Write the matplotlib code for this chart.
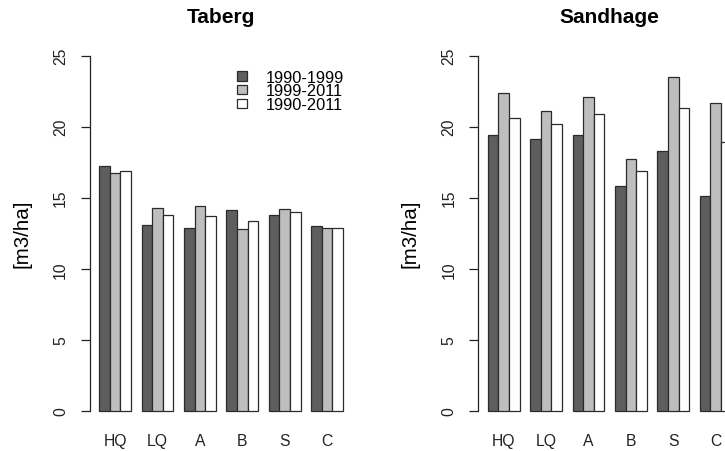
import numpy as np
import matplotlib
matplotlib.use("Agg")
import matplotlib.pyplot as plt

plt.rcParams["font.family"] = ["Liberation Sans", "DejaVu Sans"]

categories = ["HQ", "LQ", "A", "B", "S", "C"]
periods = ["1990-1999", "1999-2011", "1990-2011"]

taberg_1990_1999 = [17.25, 13.1, 12.9, 14.1, 13.8, 13.0]
taberg_1999_2011 = [16.75, 14.25, 14.45, 12.8, 14.2, 12.85]
taberg_1990_2011 = [16.85, 13.8, 13.7, 13.35, 14.0, 12.85]

sandhage_1990_1999 = [19.4, 19.1, 19.4, 15.8, 18.3, 15.1]
sandhage_1999_2011 = [22.4, 21.1, 22.1, 17.7, 23.5, 21.7]
sandhage_1990_2011 = [20.6, 20.2, 20.9, 16.85, 21.3, 18.9]

y_ticks = [0, 5, 10, 15, 20, 25]

fills = ["#5e5e5e", "#bebebe", "#ffffff"]
edge = "#2b2b2b"

W, H = 725, 452
fig = plt.figure(figsize=(W / 100, H / 100), dpi=100)

ax_w = 263.3 / W
ax_h = 383.4 / H
ax_b = 26.1 / H
ax_left = fig.add_axes([89.5 / W, ax_b, ax_w, ax_h])
ax_right = fig.add_axes([478.0 / W, ax_b, ax_w, ax_h])


def grouped_bars(ax, series, title, legend=False):
    n_groups = len(categories)
    n_series = len(series)
    group_start = 1 + np.arange(n_groups) * (n_series + 1)
    for k, (vals, lab) in enumerate(zip(series, periods)):
        ax.bar(group_start + k, vals, width=1.0, align="edge",
               color=fills[k], edgecolor=edge, linewidth=0.9, label=lab,
               zorder=2)
    ax.set_xlim(0.08, 24.92)
    ax.set_ylim(-1, 26)
    for s in ("top", "right", "bottom"):
        ax.spines[s].set_visible(False)
    ax.spines["left"].set_bounds(0, 25)
    ax.spines["left"].set_color("#222222")
    ax.spines["left"].set_linewidth(0.9)
    ax.set_yticks(y_ticks)
    ax.set_yticklabels([str(t) for t in y_ticks], rotation=90,
                       va="center", fontsize=11.3, color="#222222")
    ax.tick_params(axis="y", length=6.8, width=0.9, color="#222222", pad=8.5)
    ax.set_xticks(group_start + n_series / 2)
    ax.set_xticklabels(categories, fontsize=11.3, color="#222222")
    ax.tick_params(axis="x", length=0, pad=6.0)
    ax.set_title(title, fontsize=15, fontweight="bold", pad=13.8)
    ax.text(-0.2575, 0.5, "[m3/ha]", rotation=90, ha="center", va="center",
            fontsize=14.8, transform=ax.transAxes)
    ax.set_facecolor("none")
    if legend:
        ax.legend(loc="upper left", bbox_to_anchor=(0.559, 0.926),
                  frameon=False, fontsize=11.8, handlelength=0.62,
                  handleheight=0.5, handletextpad=1.15, labelspacing=-0.085,
                  borderpad=0, borderaxespad=0)


grouped_bars(ax_left, [taberg_1990_1999, taberg_1999_2011, taberg_1990_2011],
             "Taberg", legend=True)
grouped_bars(ax_right, [sandhage_1990_1999, sandhage_1999_2011,
                        sandhage_1990_2011], "Sandhage")

fig.savefig("out.png", dpi=100, facecolor="white")
